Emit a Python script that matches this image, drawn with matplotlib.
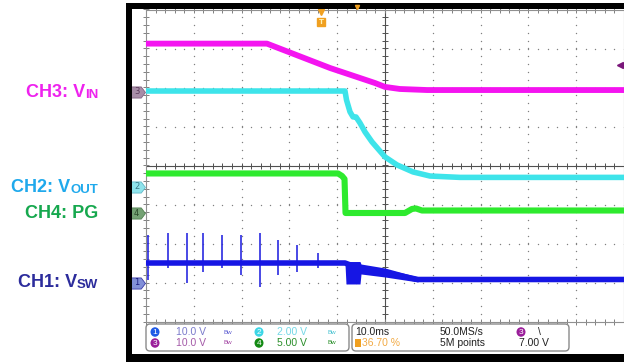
import matplotlib
matplotlib.use('Agg')
import matplotlib.pyplot as plt
import numpy as np
from matplotlib.patches import Rectangle, FancyBboxPatch, Ellipse
from matplotlib.path import Path
from matplotlib.transforms import IdentityTransform

W, H = 624, 362

# ---------------- data ----------------
time_per_div = 10.0          # ms/div
n_xdiv, n_ydiv = 10, 8
trigger_pos_ms = 36.7        # 36.70 % of record
trigger_level_v = 7.0        # CH3 falling edge

ch_scale = {'CH1': 10.0, 'CH2': 2.0, 'CH3': 10.0, 'CH4': 5.0}        # V/div
ch_offset = {'CH1': -3.0, 'CH2': -0.55, 'CH3': 1.885, 'CH4': -1.23}  # div

vin_t = [0, 25.3, 38.5, 47.9, 50.0, 53.1, 58.8, 100]
vin_v = [12.4, 12.4, 6.15, 2.3, 1.3, 0.77, 0.5, 0.5]

vout_t = [0, 41.63, 41.95, 42.68, 43.31, 43.93, 44.77, 45.82, 47.28, 50.0,
          52.51, 55.86, 59.41, 65.69, 100]
vout_v = [4.92, 4.92, 4.46, 3.85, 3.59, 3.59, 3.28, 2.82, 2.31, 1.54,
          1.13, 0.77, 0.56, 0.49, 0.49]

pg_t = [0, 40.17, 41.0, 41.53, 41.74, 54.18, 55.65, 56.49, 57.74, 100]
pg_v = [5.13, 5.13, 4.81, 4.42, 0.06, 0.06, 0.58, 0.64, 0.38, 0.38]

vsw_t = [0, 41.63, 44.77, 50.0, 56.9, 100]
vsw_v = [5.0, 5.0, 3.6, 2.56, 0.77, 0.77]

chatter_t = [41.63, 41.84, 44.77, 44.98, 50.0, 56.9]
chatter_hi = [5.26, 5.38, 5.38, 4.74, 3.72, 1.41]
chatter_lo = [4.74, -0.38, -0.38, 2.18, 1.41, 0.13]

spike_t = [0.48, 4.54, 8.51, 11.98, 15.96, 19.87, 23.85, 27.62, 31.65, 36.05]
spike_hi = [12.2, 12.7, 12.7, 12.7, 12.2, 12.2, 12.7, 10.9, 9.6, 7.6]
spike_lo = [0.6, 3.7, -0.1, 2.7, 3.7, 1.9, -1.2, 1.9, 2.7, 3.7]

labels = [('CH3: V', 'IN', '#EE22EE', 96.7),
          ('CH2: V', 'OUT', '#1FA9EC', 192.3),
          ('CH4: PG', '', '#16A84E', 217.7),
          ('CH1: V', 'SW', '#2C2C9C', 287.0)]

# ---------------- colours ----------------
c_ch1, c_ch2, c_ch3, c_ch4 = '#1616E4', '#3EE4EA', '#F414F0', '#2EEA2E'

def to_div(ch, v):
    return np.asarray(v, float) / ch_scale[ch] + ch_offset[ch]

fig = plt.figure(figsize=(W / 100, H / 100), dpi=100)
fig.patch.set_facecolor('white')
ID = IdentityTransform()

def P(x, y):
    return (x, H - y)

# scope frame (black bars)
for (x0, y0, w, h) in [(126, 3, 6, H - 3), (126, 3, W - 126, 5.5), (126, 354, W - 126, 8)]:
    fig.add_artist(Rectangle((x0, H - y0 - h), w, h, transform=ID,
                             facecolor='black', edgecolor='none', zorder=5))

ax = fig.add_axes([146 / W, 1 - 321.5 / H, 478 / W, 312 / H])
ax.set_xlim(0, n_xdiv * time_per_div)
ax.set_ylim(-n_ydiv / 2, n_ydiv / 2)
ax.set_xticks([]); ax.set_yticks([])
for s in ax.spines.values():
    s.set_color('#909090'); s.set_linewidth(0.8)

# graticule
xs_minor = np.arange(0, 100.01, time_per_div / 5)
ys_minor = np.arange(-4, 4.01, 0.2)
for xv in np.arange(10, 100, 10):
    if xv == 50:
        continue
    ax.scatter(np.full_like(ys_minor, xv), ys_minor, s=1.0, color='#808080', lw=0, zorder=1)
for yv in np.arange(-3, 4, 1):
    if yv == 0:
        continue
    ax.scatter(xs_minor, np.full_like(xs_minor, yv), s=1.0, color='#808080', lw=0, zorder=1)
ax.axhline(0, color='#505050', lw=0.8, zorder=1)
ax.axvline(50, color='#505050', lw=0.8, zorder=1)
ax.plot(xs_minor, np.zeros_like(xs_minor), ls='none', marker='|', ms=4, mew=0.7, color='#505050', zorder=1)
ax.plot(np.full_like(ys_minor, 50), ys_minor, ls='none', marker='_', ms=4, mew=0.7, color='#505050', zorder=1)
# edge ticks
ax.plot(xs_minor, np.full_like(xs_minor, 4), ls='none', marker='|', ms=4, mew=0.7, color='#808080', clip_on=False, zorder=1)
ax.plot(xs_minor, np.full_like(xs_minor, -4), ls='none', marker='|', ms=4, mew=0.7, color='#808080', clip_on=False, zorder=1)
ax.plot(np.zeros_like(ys_minor), ys_minor, ls='none', marker='_', ms=4, mew=0.7, color='#808080', clip_on=False, zorder=1)

# traces
ax.plot(vin_t, to_div('CH3', vin_v), color=c_ch3, lw=4.2, solid_joinstyle='round', zorder=3)
ax.plot(vout_t, to_div('CH2', vout_v), color=c_ch2, lw=4.0, solid_joinstyle='round', zorder=3)
ax.plot(pg_t, to_div('CH4', pg_v), color=c_ch4, lw=4.4, solid_joinstyle='round', zorder=3)
ax.vlines(spike_t, to_div('CH1', spike_lo), to_div('CH1', spike_hi), color='#2A2AE0', lw=1.2, zorder=3)
ax.plot(vsw_t, to_div('CH1', vsw_v), color=c_ch1, lw=4.0, solid_joinstyle='round', zorder=4)
ax.fill_between(chatter_t, to_div('CH1', chatter_lo), to_div('CH1', chatter_hi), color=c_ch1, lw=0, zorder=4)

# channel ground markers
arrow = Path([(-1, -0.8), (0.4, -0.8), (1, 0), (0.4, 0.8), (-1, 0.8), (-1, -0.8)],
             [Path.MOVETO, Path.LINETO, Path.LINETO, Path.LINETO, Path.LINETO, Path.CLOSEPOLY])
ytr = ax.get_yaxis_transform()
mk_x = (138 - 146) / 478
for ch, num, fc, ec, tc in [('CH3', '3', '#A78DA7', '#806080', '#5A3A5A'),
                            ('CH2', '2', '#8FE4EC', '#60B8C8', '#3A7A8A'),
                            ('CH4', '4', '#74A274', '#508050', '#2A4A2A'),
                            ('CH1', '1', '#8290D8', '#3A3AA8', '#1A1A80')]:
    ax.plot([mk_x], [ch_offset[ch]], marker=arrow, ms=10, mfc=fc, mec=ec, mew=0.6,
            transform=ytr, clip_on=False, zorder=6)
    ax.text(mk_x - 0.003, ch_offset[ch], num, transform=ytr, fontsize=6, color=tc,
            ha='center', va='center', zorder=7, clip_on=False)

# trigger level marker (CH3)
ax.plot([0.992], [to_div('CH3', trigger_level_v)], marker='<', ms=5, color='#7A167A',
        transform=ytr, clip_on=False, zorder=6)

# trigger position marker
xtr = ax.get_xaxis_transform()
ax.plot([trigger_pos_ms], [0.993], marker='v', ms=4, color='#F0A020', transform=xtr, clip_on=False, zorder=6)
ax.plot([trigger_pos_ms], [0.96], marker='s', ms=6, color='#F0A020', transform=xtr, clip_on=False, zorder=6)
ax.text(trigger_pos_ms, 0.96, 'T', transform=xtr, fontsize=5, color='#FFF0B0', fontweight='bold',
        ha='center', va='center', zorder=7)
fig.add_artist(plt.Line2D([357], [H - 7], marker='v', ms=3, color='#F0A020', transform=ID, zorder=8))

# ---------------- left labels ----------------
lab_font = ['Liberation Sans', 'DejaVu Sans']
fig.canvas.draw()
rend = fig.canvas.get_renderer()
for main, sub, col, base in labels:
    xr = 98
    if sub:
        ts = fig.text(*P(xr, base + 0.8), sub, transform=ID, fontsize=9.5, fontweight='bold',
                      color=col, family=lab_font, ha='right', va='baseline')
        wsub = ts.get_window_extent(rend).width
        xr = xr - wsub
    fig.text(*P(xr, base), main, transform=ID, fontsize=13, fontweight='bold',
             color=col, family=lab_font, ha='right', va='baseline')

# ---------------- info panel ----------------
pfont = ['Liberation Sans Narrow', 'Liberation Sans', 'DejaVu Sans']
for (x0, x1) in [(146, 349), (352, 569)]:
    fig.add_artist(FancyBboxPatch((x0, H - 351), x1 - x0, 27, boxstyle='round,pad=0,rounding_size=4',
                                  transform=ID, facecolor='white', edgecolor='#8a8a8a', lw=1, zorder=6))
r1, r2 = 332, 343

def badge(x, y, num, col):
    fig.add_artist(Ellipse(P(x, y), 9, 9.5, transform=ID, facecolor=col, edgecolor='none', zorder=7))
    fig.text(*P(x, y + 0.3), num, transform=ID, fontsize=6, color='white', ha='center', va='center',
             family=pfont, zorder=8)

def ptext(x, y, s, col, **kw):
    fig.text(*P(x, y), s, transform=ID, fontsize=7.5, color=col, ha='left', va='center',
             family=pfont, zorder=8, **kw)

def bw(x, y, col):
    fig.text(*P(x, y), 'Bw', transform=ID, fontsize=4.5, color=col, ha='left', va='center',
             family=pfont, zorder=8)

badge(155, r1, '1', '#1F5AE6'); ptext(176, r1, '10.0 V', '#7A7ACB'); bw(224, r1, '#5A5AD0')
badge(155, r2, '3', '#9A1E9A'); ptext(176, r2, '10.0 V', '#A45AA8'); bw(224, r2, '#A040A0')
badge(259, r1, '2', '#3CD6E6'); ptext(277, r1, '2.00 V', '#74D8E6'); bw(327, r1, '#40C0D0')
badge(259, r2, '4', '#138A13'); ptext(277, r2, '5.00 V', '#2A8E2A'); bw(327, r2, '#208A20')

ptext(355, r1, '10.0ms', '#222222')
fig.add_artist(Rectangle((354.5, H - r2 - 4), 6, 8, transform=ID, facecolor='#F0A020', edgecolor='none', zorder=7))
ptext(362, r2, '36.70 %', '#F2AA44')
ptext(440, r1, '50.0MS/s', '#222222')
ptext(440, r2, '5M points', '#222222')
badge(521, r1, '3', '#9A1E9A')
ptext(538, r1, '\\', '#222222')
ptext(519, r2, '7.00 V', '#222222')

fig.savefig('out.png', dpi=100, facecolor='white')
